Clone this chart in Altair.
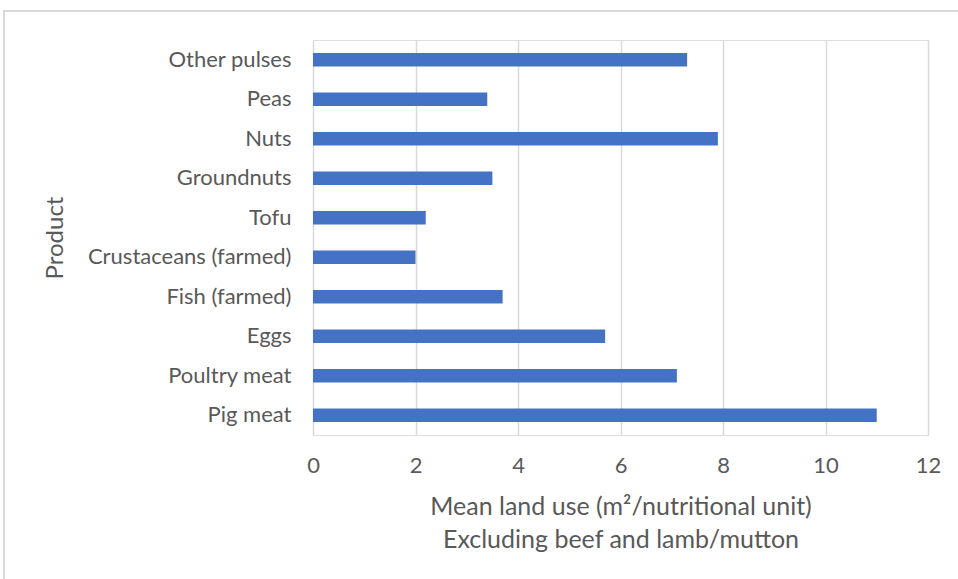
import altair as alt
import pandas as pd

# Mean land use per nutritional unit, beef and lamb/mutton left out
products = [
    "Other pulses", "Peas", "Nuts", "Groundnuts", "Tofu",
    "Crustaceans (farmed)", "Fish (farmed)", "Eggs", "Poultry meat", "Pig meat",
]
land_use = [7.3, 3.4, 7.9, 3.5, 2.2, 2.0, 3.7, 5.7, 7.1, 11.0]

df = pd.DataFrame({"Product": products, "LandUse": land_use})

FONT = "Lato"
TEXT = "#595959"
GRID = "#d9d9d9"

bars = alt.Chart(df).mark_bar(color="#4472C4").encode(
    y=alt.Y(
        "Product:N",
        sort=products,
        scale=alt.Scale(paddingInner=0.66, paddingOuter=0.33),
        axis=alt.Axis(
            title="Product",
            domain=False,
            ticks=False,
            grid=False,
            labelPadding=22,
            labelLimit=300,
            labelFontSize=22,
            labelColor=TEXT,
            labelFont=FONT,
            titleFontSize=24,
            titleFontWeight="normal",
            titleColor=TEXT,
            titleFont=FONT,
            titleX=-246,
            titleY=197.5,
        ),
    ),
    x=alt.X(
        "LandUse:Q",
        scale=alt.Scale(domain=[0, 12]),
        axis=alt.Axis(
            title=["Mean land use (m²/nutritional unit)", "Excluding beef and lamb/mutton"],
            values=[0, 2, 4, 6, 8, 10, 12],
            domain=False,
            ticks=False,
            grid=True,
            gridColor=GRID,
            gridWidth=1.5,
            labelFlush=False,
            labelPadding=20,
            labelFontSize=22,
            labelColor=TEXT,
            labelFont=FONT,
            titleFontSize=25,
            titleFontWeight="normal",
            titleColor=TEXT,
            titleFont=FONT,
            titlePadding=18,
            titleLineHeight=33,
        ),
    ),
)

# light frame edge along the top and left of the figure
frame = alt.Chart(df).mark_rect(
    fill=None, stroke="#d9d9d9", strokeWidth=1.5, clip=False
).encode(
    x=alt.value(-309), x2=alt.value(700),
    y=alt.value(-29), y2=alt.value(600),
)

chart = (
    alt.layer(frame, bars)
    .properties(
        width=615,
        height=395,
        padding={"left": 313, "top": 40, "right": 30, "bottom": 144},
        autosize=alt.AutoSizeParams(type="none"),
    )
    .configure_view(stroke=None)
    .configure(background="white")
)

chart.save("out.html", embed_options={"renderer": "svg", "actions": False})
